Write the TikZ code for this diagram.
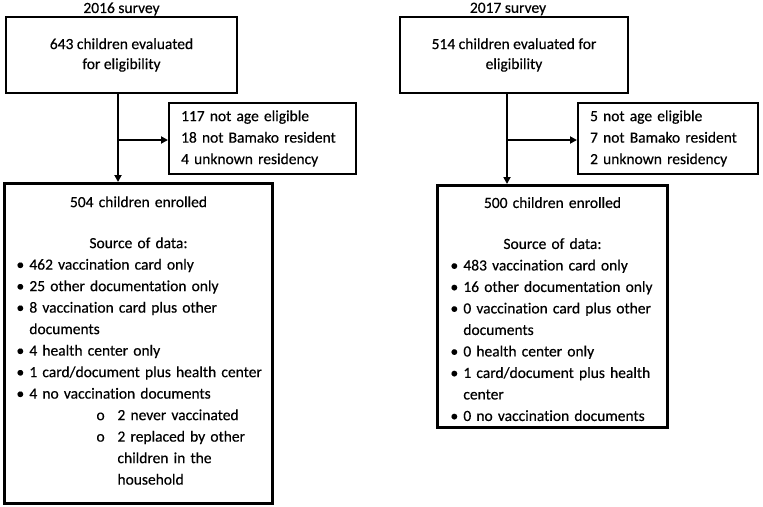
\documentclass[tikz,border=0pt]{standalone}
\usepackage{fontspec}
\setmainfont{Carlito}[Ligatures=NoCommon, FakeBold=0.4]
\usetikzlibrary{arrows.meta}
\newcommand{\bul}{\textbullet~}
\newcommand{\cont}{\hphantom{\textbullet~}}
\newcommand{\subo}{\hspace*{80pt}\makebox[21pt][l]{o}}
\newcommand{\subc}{\hspace*{101pt}}

\begin{document}
\begin{tikzpicture}[x=1pt, y=-1pt,
  every node/.style={font=\fontsize{15.5}{20}\selectfont},
  title/.style={inner sep=0pt},
  evalbox/.style={draw, line width=2.2pt, minimum height=76pt, align=center, inner sep=0pt},
  exclbox/.style={draw, line width=2.2pt, minimum height=71pt, align=left, inner xsep=12pt, inner ysep=0pt, anchor=west, font=\fontsize{15.5}{21.5}\selectfont},
  enrbox/.style={draw, line width=3pt, align=left, inner xsep=12pt, inner ysep=0pt, anchor=north west, font=\fontsize{15.5}{21.5}\selectfont},
  arr/.style={-{Triangle[length=7pt,width=7pt]}, line width=2pt}]
  \useasboundingbox (0,0) rectangle (763,506);

  % 2016 survey
  \node[title] (t16) at (121.5,9) {2016 survey};
  \node[evalbox, minimum width=231pt] (eval16) at (121.5,55) {643 children evaluated\\for eligibility};
  \node[exclbox, text width=163pt] (excl16) at (168,138.5) {117 not age eligible\\18 not Bamako resident\\4 unknown residency};
  \node[enrbox, text width=244pt, minimum height=320pt] (enr16) at (3,182) {%
    {\centering 504 children enrolled\\[19.5pt]Source of data:\par}
    \bul 462 vaccination card only\\
    \bul 25 other documentation only\\
    \bul 8 vaccination card plus other\\
    \cont documents\\
    \bul 4 health center only\\
    \bul \mbox{1 card/document plus health center}\\
    \bul 4 no vaccination documents\\
    \subo 2 never vaccinated\\
    \subo 2 replaced by other\\
    \subc children in the\\
    \subc household\rule[-6pt]{0pt}{6pt}};
  \coordinate (j16) at (118,140);
  \draw[arr] (j16 |- eval16.south) -- (j16 |- enr16.north);
  \draw[arr] (j16) -- (j16 -| excl16.west);

  % 2017 survey
  \node[title] (t17) at (508,9) {2017 survey};
  \node[evalbox, minimum width=228pt] (eval17) at (514,55) {514 children evaluated for\\eligibility};
  \node[exclbox, text width=156pt] (excl17) at (577,138.5) {5 not age eligible\\7 not Bamako resident\\2 unknown residency};
  \node[enrbox, text width=204pt, minimum height=242pt, inner xsep=13pt] (enr17) at (436,184) {%
    {\centering\rule{0pt}{16pt}500 children enrolled\\[19.5pt]Source of data:\par}
    \bul 483 vaccination card only\\
    \bul 16 other documentation only\\
    \bul 0 vaccination card plus other\\
    \cont documents\\
    \bul 0 health center only\\
    \bul 1 card/document plus health\\
    \cont center\\
    \bul 0 no vaccination documents};
  \coordinate (j17) at (507,140);
  \draw[arr] (j17 |- eval17.south) -- (j17 |- enr17.north);
  \draw[arr] (j17) -- (j17 -| excl17.west);
\end{tikzpicture}
\end{document}
